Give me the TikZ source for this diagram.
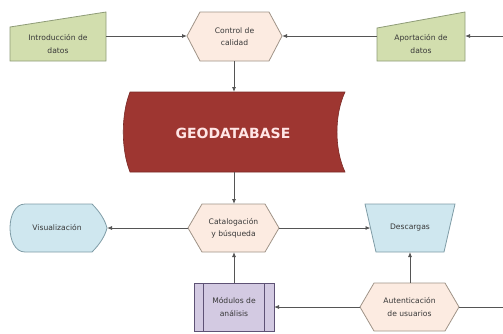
\documentclass[tikz,border=0pt]{standalone}
\usepackage{fontspec}
\setmainfont{DejaVu Sans}
\usetikzlibrary{arrows.meta}

\definecolor{inputfill}{HTML}{D2DEAE}
\definecolor{inputline}{HTML}{8F9C78}
\definecolor{procfill}{HTML}{FCEBE1}
\definecolor{procline}{HTML}{A09488}
\definecolor{dbfill}{HTML}{9E3631}
\definecolor{dbline}{HTML}{7A2A26}
\definecolor{outfill}{HTML}{CFE7EF}
\definecolor{outline}{HTML}{7F9CA6}
\definecolor{modfill}{HTML}{D3CAE2}
\definecolor{modline}{HTML}{5E5275}
\definecolor{flow}{HTML}{555555}
\definecolor{labeltext}{HTML}{383838}

\tikzset{
  label/.style={align=center, text=labeltext, font=\fontsize{7.6}{12.5}\selectfont, inner sep=0pt},
  inputshape/.style={fill=inputfill, draw=inputline, line width=0.8pt},
  procshape/.style={fill=procfill, draw=procline, line width=0.8pt},
  dbshape/.style={fill=dbfill, draw=dbline, line width=0.6pt},
  outshape/.style={fill=outfill, draw=outline, line width=0.8pt},
  modshape/.style={fill=modfill, draw=modline, line width=0.8pt},
  flowline/.style={draw=flow, line width=0.8pt},
  flowarrow/.style={flowline, -{Latex[length=5pt,width=4pt]}}
}

\begin{document}
\begin{tikzpicture}[x=1pt,y=-1pt]
\useasboundingbox (0,0) rectangle (503,333);

% --- data input (manual input shapes) ---
\draw[inputshape] (10,27) -- (106,12) -- (106,61) -- (10,61) -- cycle;
\node[label] (intro) at (58,44) {Introducción de\\datos};
\coordinate (intro-e) at (106,36);

\draw[inputshape] (377,28) -- (465,12) -- (465,61) -- (377,61) -- cycle;
\node[label] (apor) at (421,44) {Aportación de\\datos};
\coordinate (apor-e) at (465,36);
\coordinate (apor-w) at (377,36);
\coordinate (feed-in) at (503,36);

% --- quality control (hexagon) ---
\draw[procshape] (187,36) -- (200,12) -- (269,12) -- (282,36) -- (269,61) -- (200,61) -- cycle;
\node[label] (ctrl) at (234.5,36.5) {Control de\\calidad};
\coordinate (ctrl-w) at (187,36);
\coordinate (ctrl-e) at (282,36);
\coordinate (ctrl-s) at (234,61);

% --- stored data ---
\draw[dbshape] (130,92) -- (345,92)
  .. controls (334.3,115) and (334.3,149) .. (345,172)
  -- (130,172)
  .. controls (121,149) and (121,115) .. (130,92) -- cycle;
\node[font=\fontsize{14}{16}\bfseries\selectfont, text=white!90!red] (geo) at (233,133) {GEODATABASE};
\coordinate (geo-n) at (234,92);
\coordinate (geo-s) at (234,172);

% --- catalogue and search (hexagon) ---
\draw[procshape] (188,228) -- (202,204) -- (265,204) -- (279,228) -- (265,252) -- (202,252) -- cycle;
\node[label] (cat) at (233.5,228) {Catalogación\\y búsqueda};
\coordinate (cat-n) at (234,204);
\coordinate (cat-s) at (234,252);
\coordinate (cat-w) at (188,228);
\coordinate (cat-e) at (279,228);

% --- display ---
\draw[outshape] (25,204) -- (92,204)
  .. controls (100,212) and (105,220) .. (107,228)
  .. controls (105,236) and (100,244) .. (92,252)
  -- (25,252)
  .. controls (5,252) and (5,204) .. (25,204) -- cycle;
\node[label] (vis) at (57,228) {Visualización};
\coordinate (vis-e) at (107,228);

% --- downloads (manual operation) ---
\draw[outshape] (365,204) -- (455,204) -- (444,252) -- (376,252) -- cycle;
\node[label] (desc) at (410,228) {Descargas};
\coordinate (desc-w) at (370.5,228);
\coordinate (desc-s) at (410,252);

% --- analysis modules (predefined process) ---
\draw[modshape] (194,283) rectangle (274,331);
\draw[modshape] (203,283) -- (203,331) (264,283) -- (264,331);
\node[label] (mod) at (234,307) {Módulos de\\análisis};
\coordinate (mod-n) at (234,283);
\coordinate (mod-e) at (274,307);

% --- user authentication (hexagon) ---
\draw[procshape] (360,307) -- (374,283) -- (445,283) -- (459,307) -- (445,331) -- (374,331) -- cycle;
\node[label] (aut) at (409.5,307) {Autenticación\\de usuarios};
\coordinate (aut-n) at (410,283);
\coordinate (aut-w) at (360,307);
\coordinate (aut-e) at (459,307);
\coordinate (user-in) at (503,307);

% --- flows ---
\draw[flowarrow] (intro-e) -- (ctrl-w);
\draw[flowarrow] (feed-in) -- (apor-e);
\draw[flowarrow] (apor-w) -- (ctrl-e);
\draw[flowarrow] (ctrl-s) -- (geo-n);
\draw[flowarrow] (geo-s) -- (cat-n);
\draw[flowarrow] (cat-w) -- (vis-e);
\draw[flowarrow] (cat-e) -- (desc-w);
\draw[flowarrow] (mod-n) -- (cat-s);
\draw[flowarrow] (aut-n) -- (desc-s);
\draw[flowarrow] (aut-w) -- (mod-e);
\draw[flowline] (user-in) -- (aut-e);
\end{tikzpicture}
\end{document}
